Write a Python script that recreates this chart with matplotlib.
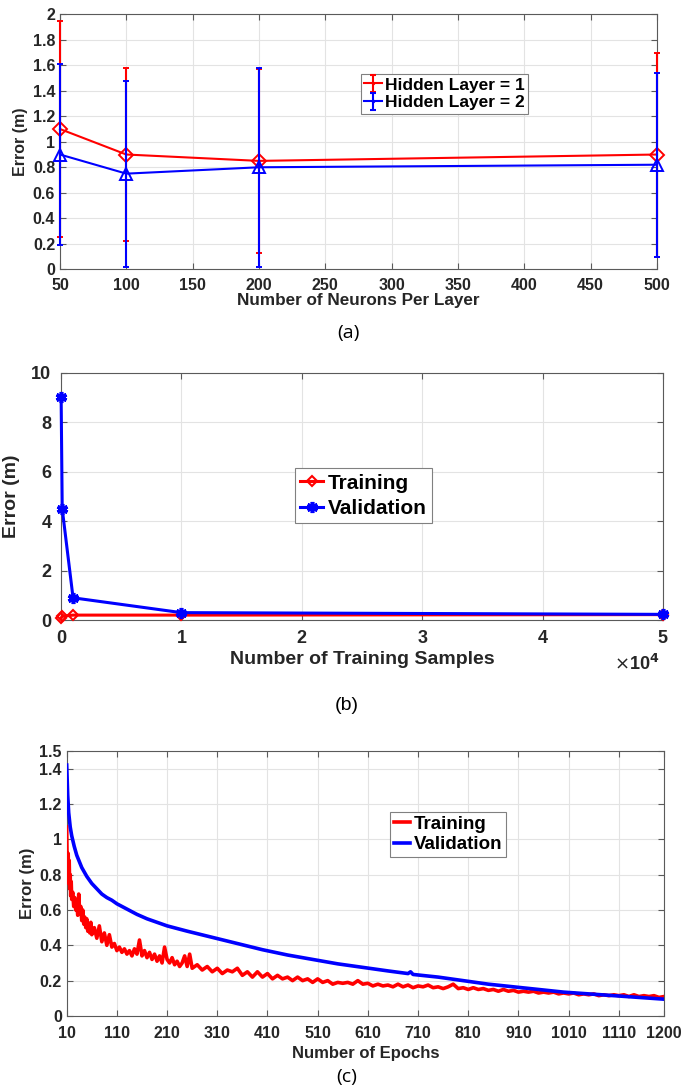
import matplotlib
matplotlib.use("Agg")
import matplotlib.pyplot as plt
from matplotlib.ticker import FuncFormatter

plt.rcParams['font.family'] = ['Liberation Sans', 'DejaVu Sans']

# ---------------- Panel (a) data ----------------
neurons = [50, 100, 200, 500]
h1_err = [1.10, 0.90, 0.85, 0.90]
h1_upper = [1.95, 1.58, 1.57, 1.70]
h1_lower = [0.25, 0.22, 0.13, 0.10]
h2_err = [0.90, 0.75, 0.80, 0.82]
h2_upper = [1.61, 1.48, 1.58, 1.54]
h2_lower = [0.19, 0.02, 0.02, 0.10]

# ---------------- Panel (b) data ----------------
samples = [10, 100, 1000, 10000, 50000]
train_b = [0.08, 0.15, 0.20, 0.20, 0.22]
valid_b = [9.0, 4.5, 0.9, 0.30, 0.23]

# ---------------- Panel (c) data ----------------
train_epochs = [10, 11, 12, 13, 14, 15, 16, 17, 18, 19, 20, 22, 24, 26, 28, 30, 32, 34, 36, 38,
                40, 42, 44, 46, 48, 50, 52, 54, 56, 58, 60, 65, 70, 75, 80, 85, 90, 95, 100, 105,
                110, 115, 120, 125, 130, 135, 140, 145, 150, 155, 160, 165, 170, 175, 180, 185,
                190, 195, 200, 205, 210, 215, 220, 225, 230, 235, 240, 245, 250, 255, 260,
                270, 280, 290, 300, 310, 320, 330, 340, 350, 360, 370, 380, 390, 400, 410, 420,
                430, 440, 450, 460, 470, 480, 490, 500, 510, 520, 530, 540, 550, 560, 570, 580,
                590, 600, 610, 620, 630, 640, 650, 660, 670, 680, 690, 700, 710, 720, 730, 740,
                750, 760, 770, 780, 790, 800, 810, 820, 830, 840, 850, 860, 870, 880, 890, 900,
                910, 920, 930, 940, 950, 960, 970, 980, 990, 1000, 1010, 1020, 1030, 1040, 1050,
                1060, 1070, 1080, 1090, 1100, 1110, 1120, 1130, 1140, 1150, 1160, 1170, 1180,
                1190, 1200]
train_c = [1.07, 0.85, 0.78, 0.92, 0.75, 0.88, 0.72, 0.80, 0.68, 0.76, 0.66, 0.70, 0.62, 0.67, 0.60,
           0.64, 0.57, 0.69, 0.58, 0.62, 0.54, 0.60, 0.52, 0.56, 0.50, 0.55, 0.48, 0.52, 0.47, 0.53,
           0.46, 0.50, 0.44, 0.51, 0.42, 0.47, 0.40, 0.46, 0.39, 0.41, 0.37, 0.39, 0.36, 0.38, 0.35,
           0.37, 0.34, 0.38, 0.35, 0.43, 0.34, 0.37, 0.33, 0.36, 0.32, 0.35, 0.31, 0.34, 0.30, 0.39,
           0.32, 0.30, 0.33, 0.29, 0.31, 0.28, 0.30, 0.34, 0.28, 0.35, 0.27,
           0.29, 0.26, 0.28, 0.25, 0.27, 0.24, 0.26, 0.25, 0.27, 0.23, 0.25, 0.22, 0.25, 0.22, 0.24,
           0.21, 0.23, 0.21, 0.22, 0.20, 0.22, 0.20, 0.21, 0.19, 0.21, 0.19, 0.20, 0.18, 0.19, 0.185,
           0.19, 0.18, 0.20, 0.18, 0.185, 0.17, 0.18, 0.17, 0.175, 0.165, 0.18, 0.165, 0.175, 0.16,
           0.17, 0.165, 0.175, 0.16, 0.165, 0.155, 0.165, 0.18, 0.155, 0.16, 0.15, 0.16, 0.15, 0.155,
           0.145, 0.15, 0.14, 0.15, 0.14, 0.145, 0.135, 0.14, 0.135, 0.14, 0.13, 0.135, 0.13, 0.135,
           0.125, 0.13, 0.125, 0.13, 0.12, 0.125, 0.12, 0.125, 0.115, 0.12, 0.115, 0.12, 0.115, 0.12,
           0.11, 0.12, 0.11, 0.115, 0.11, 0.115, 0.105, 0.11]
valid_epochs = [10, 12, 14, 17, 20, 25, 30, 40, 50, 60, 70, 80, 90, 100, 110, 130, 150, 170, 190,
                210, 250, 300, 350, 400, 450, 500, 550, 600, 650, 690, 695, 700, 750, 800, 850, 900,
                950, 1000, 1050, 1100, 1150, 1200]
valid_c = [1.42, 1.25, 1.15, 1.07, 1.02, 0.96, 0.91, 0.84, 0.79, 0.75, 0.72, 0.69, 0.67, 0.655,
           0.635, 0.605, 0.575, 0.55, 0.53, 0.51, 0.48, 0.445, 0.41, 0.375, 0.345, 0.32, 0.295,
           0.275, 0.255, 0.24, 0.25, 0.235, 0.22, 0.20, 0.18, 0.165, 0.15, 0.135, 0.125, 0.115,
           0.105, 0.095]

TICKC = '#262626'
SPINEC = '#5a5a5a'
GRIDC = '#e3e3e3'
H = 1088.0


def style_axes(ax, tsize, pad=3.5):
    ax.grid(True, color=GRIDC, linewidth=0.8)
    ax.set_axisbelow(True)
    ax.tick_params(direction='in', top=True, right=True, length=4, width=0.8, pad=pad,
                   colors=SPINEC, labelcolor=TICKC, labelsize=tsize)
    for lab in ax.get_xticklabels() + ax.get_yticklabels():
        lab.set_fontweight('bold')
    for s in ax.spines.values():
        s.set_color(SPINEC)
        s.set_linewidth(0.8)


fmt_g = FuncFormatter(lambda v, p: ('%g' % round(v, 4)))

fig = plt.figure(figsize=(6.84, 10.88), dpi=100)

# ---------------- (a) ----------------
axa = fig.add_axes([0.0877, 0.7525, 0.8728, 0.2344])
yerr1 = [[m - lo for m, lo in zip(h1_err, h1_lower)], [hi - m for m, hi in zip(h1_err, h1_upper)]]
yerr2 = [[m - lo for m, lo in zip(h2_err, h2_lower)], [hi - m for m, hi in zip(h2_err, h2_upper)]]
ea = axa.errorbar(neurons, h1_err, yerr=yerr1, color='#ff0000', marker='D', mfc='none', ms=7,
                  mew=1.4, lw=1.5, capsize=2.5, elinewidth=1.5, capthick=1.5, zorder=3)
eb = axa.errorbar(neurons, h2_err, yerr=yerr2, color='#0000ff', marker='^', mfc='none', ms=8,
                  mew=1.4, lw=1.5, capsize=2.5, elinewidth=1.5, capthick=1.5, zorder=4)
for cont in (ea, eb):
    for art in cont.get_children():
        art.set_clip_on(False)
# legend proxies (MATLAB-style errorbar glyph without the data marker)
pa = axa.errorbar([float('nan')], [float('nan')], yerr=[[0.1], [0.1]], color='#ff0000',
                  marker='.', ms=3, lw=1.5, capsize=2.5, elinewidth=1.5, capthick=1.5,
                  label='Hidden Layer = 1')
pb = axa.errorbar([float('nan')], [float('nan')], yerr=[[0.1], [0.1]], color='#0000ff',
                  marker='.', ms=3, lw=1.5, capsize=2.5, elinewidth=1.5, capthick=1.5,
                  label='Hidden Layer = 2')
axa.set_xlim(50, 500)
axa.set_ylim(0, 2)
axa.set_xticks(range(50, 501, 50))
axa.set_yticks([i * 0.2 for i in range(11)])
axa.yaxis.set_major_formatter(fmt_g)
style_axes(axa, 11.5)
axa.tick_params(axis='x', pad=6)
axa.set_xlabel('Number of Neurons Per Layer', fontsize=12.3, fontweight='bold', color=TICKC, labelpad=0)
axa.set_ylabel('Error (m)', fontsize=11.5, fontweight='bold', color=TICKC, labelpad=3)
lga = axa.legend(handles=[pa, pb], loc='upper left', bbox_to_anchor=(0.504, 0.766),
                 prop={'weight': 'bold', 'size': 12.5}, fancybox=False, framealpha=1,
                 edgecolor='#808080', handlelength=1.0, handletextpad=0.2,
                 borderpad=0.2, labelspacing=0.15, borderaxespad=0)
lga.get_frame().set_linewidth(0.8)
fig.text(348 / 684, 1 - 333 / H, '(a)', ha='center', va='center', fontsize=14,
         family=['Open Sans', 'DejaVu Sans'])

# ---------------- (b) ----------------
axb = fig.add_axes([0.0892, 0.4301, 0.880, 0.2273])
axb.plot(samples, train_b, color='#ff0000', marker='D', mfc='none', ms=5, mew=1.5, lw=2.2,
         label='Training', zorder=3, clip_on=False)
axb.plot(samples, valid_b, color='#0000ff', marker=(6, 2, 0), ms=8, mew=2.6, lw=2.2,
         label='Validation', zorder=4, clip_on=False)
axb.set_xlim(0, 50000)
axb.set_ylim(0, 10)
axb.set_xticks([0, 10000, 20000, 30000, 40000, 50000])
axb.set_xticklabels(['0', '1', '2', '3', '4', '5'])
axb.set_yticks([0, 2, 4, 6, 8, 10])
style_axes(axb, 13, pad=7)
axb.set_xlabel('Number of Training Samples', fontsize=14, fontweight='bold', color=TICKC, labelpad=3)
axb.set_ylabel('Error (m)', fontsize=14, fontweight='bold', color=TICKC, labelpad=8)
fig.text(659 / 684, 1 - 664 / H, r'$\times$10$^{\mathbf{4}}$', ha='right', va='center',
         fontsize=13, fontweight='bold', color=TICKC)
lgb = axb.legend(loc='upper left', bbox_to_anchor=(0.389, 0.613),
                 prop={'weight': 'bold', 'size': 15}, fancybox=False, framealpha=1,
                 edgecolor='#808080', handlelength=1.1, handletextpad=0.2,
                 borderpad=0.25, labelspacing=0.3, borderaxespad=0)
lgb.get_frame().set_linewidth(0.8)
fig.text(347 / 684, 1 - 705 / H, '(b)', ha='center', va='center', fontsize=14)

# ---------------- (c) ----------------
axc = fig.add_axes([0.0975, 0.0662, 0.8733, 0.2436])
axc.plot(train_epochs, train_c, color='#ff0000', lw=2.6, label='Training', zorder=3)
axc.plot(valid_epochs, valid_c, color='#0000ff', lw=2.6, label='Validation', zorder=4)
axc.set_xlim(10, 1200)
axc.set_ylim(0, 1.5)
axc.set_xticks([10, 110, 210, 310, 410, 510, 610, 710, 810, 910, 1010, 1110, 1200])
axc.set_yticks([0, 0.2, 0.4, 0.6, 0.8, 1.0, 1.2, 1.4, 1.5])
axc.yaxis.set_major_formatter(fmt_g)
style_axes(axc, 11.5)
axc.tick_params(axis='x', pad=7)
axc.set_xlabel('Number of Epochs', fontsize=12, fontweight='bold', color=TICKC, labelpad=4)
axc.set_ylabel('Error (m)', fontsize=12, fontweight='bold', color=TICKC, labelpad=3)
lgc = axc.legend(loc='upper left', bbox_to_anchor=(0.541, 0.771),
                 prop={'weight': 'bold', 'size': 13.5}, fancybox=False, framealpha=1,
                 edgecolor='#808080', handlelength=0.9, handletextpad=0.2,
                 borderpad=0.2, labelspacing=0.2, borderaxespad=0)
lgc.get_frame().set_linewidth(0.8)
fig.text(347 / 684, 1 - 1077 / H, '(c)', ha='center', va='center', fontsize=14,
         family=['Open Sans', 'DejaVu Sans'])

fig.savefig('out.png', dpi=100)
